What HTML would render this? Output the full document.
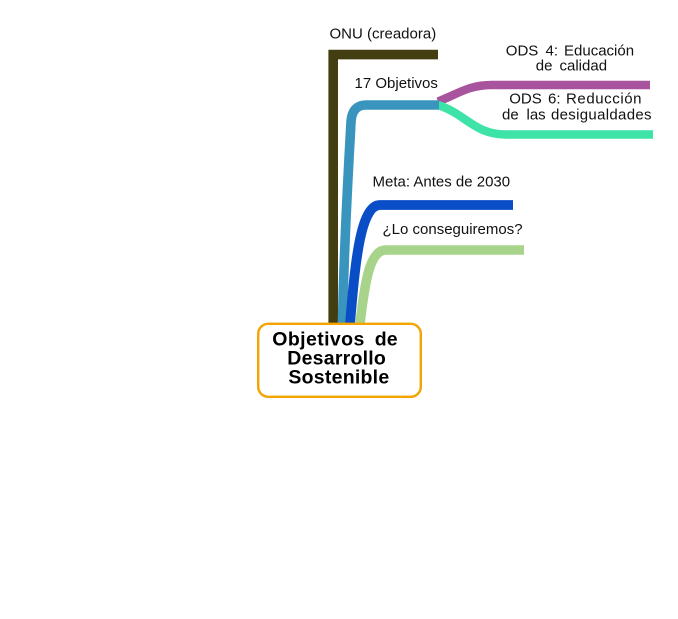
<!DOCTYPE html>
<html>
<head>
<meta charset="utf-8">
<style>
  html, body { margin: 0; padding: 0; background: #ffffff; }
  body { width: 678px; height: 619px; overflow: hidden; }
  svg { display: block; }
  text { font-family: "Liberation Sans", Arial, sans-serif; fill: #111111; }
  .s { font-size: 15px; }
  .b { font-size: 19.5px; font-weight: bold; fill: #000; }
</style>
</head>
<body>
<svg width="678" height="619" viewBox="0 0 678 619" xmlns="http://www.w3.org/2000/svg">
  <!-- ONU dark branch -->
  <path d="M333.2,324 V54.6 H438" fill="none" stroke="#433D12" stroke-width="9.6" stroke-linejoin="miter" stroke-linecap="butt"/>

  <!-- sub-branches of 17 Objetivos -->
  <path d="M438,101.5 C458,94 468,85 492,85 L650,85" fill="none" stroke="#A8539D" stroke-width="8.4"/>
  <path d="M438,105 C466,114 474,134.5 506,134.5 L653,134.5" fill="none" stroke="#3DE3A7" stroke-width="8.4"/>

  <!-- 17 Objetivos branch -->
  <path d="M342.5,324 C344,240 349,160 351,122 Q352,105 366,105 L439,105" fill="none" stroke="#3A95BE" stroke-width="9.6"/>

  <!-- Meta branch -->
  <path d="M350,324 C355,265 360,205 380,205 L513,205" fill="none" stroke="#0A4EC7" stroke-width="9.8"/>

  <!-- Lo conseguiremos branch -->
  <path d="M360,324 C365,280 370,250 386,250 L524,250" fill="none" stroke="#A7D48A" stroke-width="9.6"/>

  <!-- central box -->
  <rect x="258.2" y="323.8" width="162.6" height="73" rx="10" ry="10" fill="#ffffff" stroke="#F5A300" stroke-width="2.4"/>

  <!-- labels -->
  <text class="s" x="329.5" y="38.7">ONU (creadora)</text>
  <text class="s" x="354.5" y="88">17 Objetivos</text>
  <text class="s" x="372.5" y="186.7">Meta: Antes de 2030</text>
  <text class="s" x="382.5" y="234">¿Lo conseguiremos?</text>

  <!-- ODS 4 -->
  <text class="s" x="505.8" y="55.6">ODS</text>
  <text class="s" x="545.5" y="55.6">4:</text>
  <text class="s" x="564" y="55.6">Educación</text>
  <text class="s" x="535.8" y="70.6">de</text>
  <text class="s" x="559.5" y="70.6">calidad</text>

  <!-- ODS 6 -->
  <text class="s" x="509.2" y="103.6">ODS</text>
  <text class="s" x="548" y="103.6">6:</text>
  <text class="s" x="566" y="103.6" textLength="75.5" lengthAdjust="spacing">Reducción</text>
  <text class="s" x="502" y="119.4">de</text>
  <text class="s" x="526.5" y="119.4">las</text>
  <text class="s" x="551" y="119.4" textLength="100.5" lengthAdjust="spacing">desigualdades</text>

  <!-- central text -->
  <text class="b" x="272.3" y="345.3" textLength="92" lengthAdjust="spacing">Objetivos</text>
  <text class="b" x="374.8" y="345.3">de</text>
  <text class="b" x="287.3" y="364.7" textLength="98.5" lengthAdjust="spacing">Desarrollo</text>
  <text class="b" x="288.4" y="383.7" textLength="100.8" lengthAdjust="spacing">Sostenible</text>
</svg>
</body>
</html>
